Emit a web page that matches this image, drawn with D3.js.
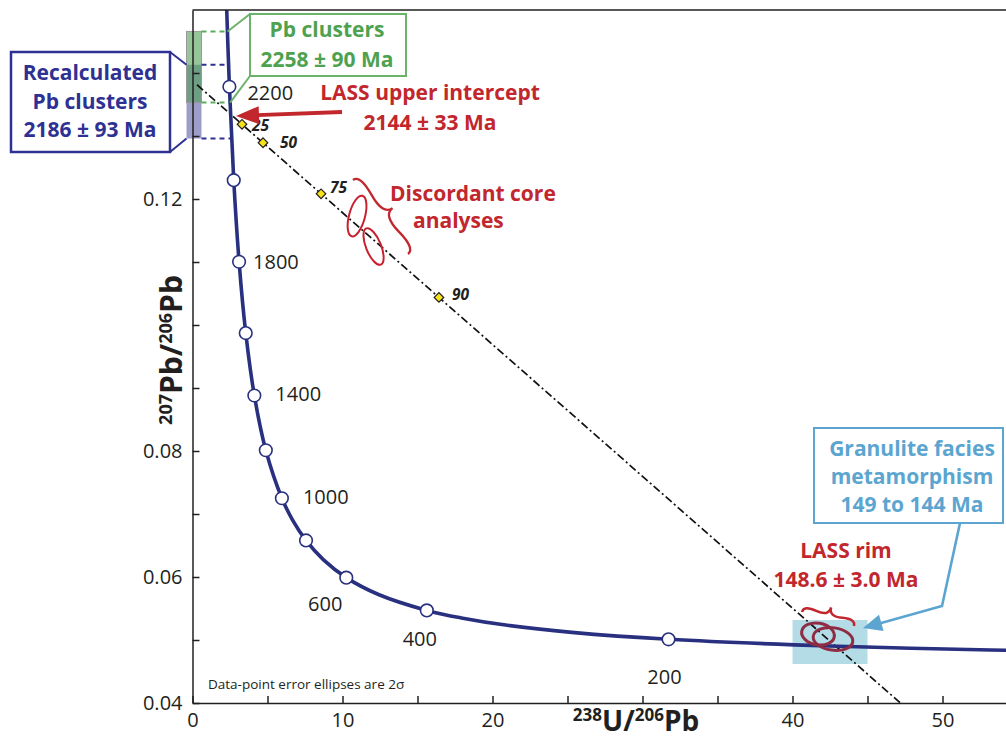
<!DOCTYPE html>
<meta charset="utf-8">
<html>
<style>
  body { margin: 0; background: #fff; }
  .chart text { font-family: "Open Sans", sans-serif; }
  .axis path, .axis line { stroke: #231f20; stroke-width: 1.5; }
  .axis text { font-size: 20px; fill: #231f20; }
</style>
<script type="text/javascript" src="https://cdnjs.cloudflare.com/ajax/libs/d3/7.8.5/d3.min.js"></script>

<body>
  <svg class="chart"></svg>
</body>
<script>
  var width = 1006;
  var height = 742;

  // concordia (Tera-Wasserburg), age in Ma with 238U/206Pb and 207Pb/206Pb
  var concAge = [100, 120, 150, 200, 250, 300, 350, 400, 500, 600, 700, 800, 900, 1000, 1200, 1400, 1600, 1800, 2000, 2200, 2400];
  var concX = [63.97, 53.22, 42.48, 31.735, 25.29, 20.992, 17.923, 15.621, 12.399, 10.252, 8.718, 7.568, 6.674, 5.959, 4.888, 4.123, 3.550, 3.105, 2.749, 2.459, 2.217];
  var concY = [0.04802, 0.04842, 0.04905, 0.05011, 0.05121, 0.05233, 0.05350, 0.05470, 0.05722, 0.05990, 0.06276, 0.06580, 0.06904, 0.07250, 0.08012, 0.08881, 0.09872, 0.11004, 0.12299, 0.13782, 0.15483];
  var markerAges = [200, 400, 600, 800, 1000, 1200, 1400, 1600, 1800, 2000, 2200];
  var labelAges = [200, 400, 600, 1000, 1400, 1800, 2200];

  // discordia: upper (2144 Ma) and lower (148.6 Ma) intercepts
  var discX = [2.534, 42.883];
  var discY = [0.13346, 0.04902];
  var discPctX = [3.3, 4.7, 8.57, 16.43];
  var discPct = ["25", "50", "75", "90"];

  // error ellipses
  var coreCx = [10.97, 12.07];
  var coreCy = [0.1173, 0.11246];
  var coreEx = [0.53, 0.5];
  var coreEy = [0.00333, 0.0031];
  var coreAng = [15, -22];

  var rimCx = [41.7, 42.7];
  var rimCy = [0.05095, 0.05016];
  var rimEx = [1.1, 1.33];
  var rimEy = [0.00172, 0.00178];
  var rimAng = [10, 8];

  // ranges
  var rimZoneX = [40, 45];
  var rimZoneY = [0.04619, 0.05317];
  var pbRange = [0.1353, 0.1466];
  var recalcRange = [0.1296, 0.1413];

  var xTicks = [0, 5, 10, 15, 20, 25, 30, 35, 40, 45, 50];
  var xLabels = [0, 10, 20, 40, 50];
  var yTicks = [0.04, 0.05, 0.06, 0.07, 0.08, 0.09, 0.10, 0.11, 0.12, 0.13, 0.14];
  var yLabels = [0.04, 0.06, 0.08, 0.12];

  var x = d3.scaleLinear().domain([0, 54.2]).range([192.5, 1005.5]);
  var y = d3.scaleLinear().domain([0.04, 0.15]).range([703, 10]);

  var navy = "#28307f", red = "#c1272d", lblue = "#5ba5d0", green = "#4ea24f", dblue = "#2e3192";

  var svg = d3.select(".chart").attr("width", width).attr("height", height);

  svg.append("defs").append("clipPath").attr("id", "plot")
    .append("rect").attr("x", x(0)).attr("y", y(0.15)).attr("width", 830).attr("height", y(0.04) - y(0.15));

  // light blue zone behind the rim analyses
  svg.append("rect")
    .attr("x", x(rimZoneX[0])).attr("y", y(rimZoneY[1]))
    .attr("width", x(rimZoneX[1]) - x(rimZoneX[0]))
    .attr("height", y(rimZoneY[0]) - y(rimZoneY[1]))
    .attr("fill", "#b3dce7");

  // cluster range bars
  var concAtY = d3.scaleLinear().domain(concY.slice().reverse()).range(concX.slice().reverse());
  svg.append("rect")
    .attr("x", x(0) - 6).attr("y", y(recalcRange[1]))
    .attr("width", 15).attr("height", y(recalcRange[0]) - y(recalcRange[1]))
    .attr("fill", "#3c3c96").attr("fill-opacity", 0.5);
  svg.append("rect")
    .attr("x", x(0) - 6).attr("y", y(pbRange[1]))
    .attr("width", 15).attr("height", y(pbRange[0]) - y(pbRange[1]))
    .attr("fill", "#4f9e55").attr("fill-opacity", 0.6)
    .attr("stroke", "#999").attr("stroke-width", 1);

  function dashed(v, col) {
    svg.append("line")
      .attr("x1", x(0) + 9).attr("x2", x(concAtY(v)))
      .attr("y1", y(v)).attr("y2", y(v))
      .attr("stroke", col).attr("stroke-width", 2).attr("stroke-dasharray", "5,4");
  }
  dashed(pbRange[1], "#5aae5a");
  dashed(pbRange[0], "#5aae5a");
  dashed(recalcRange[1], dblue);
  dashed(recalcRange[0], dblue);

  // discordia
  var disc = d3.scaleLinear().domain(discX).range(discY);
  var discEnd = disc.invert(0.04);
  svg.append("line")
    .attr("clip-path", "url(#plot)")
    .attr("x1", x(0.3)).attr("y1", y(disc(0.3)))
    .attr("x2", x(discEnd)).attr("y2", y(0.04))
    .attr("stroke", "#111").attr("stroke-width", 1.7)
    .attr("stroke-dasharray", "8,3,2,3");

  // concordia curve
  var conc = concAge.map(function(a, i) { return [concX[i], concY[i]]; });
  svg.append("path")
    .datum(conc)
    .attr("clip-path", "url(#plot)")
    .attr("d", d3.line().x(function(d) { return x(d[0]); }).y(function(d) { return y(d[1]); })
      .curve(d3.curveCatmullRom))
    .attr("fill", "none").attr("stroke", navy).attr("stroke-width", 3.6);

  // axes
  svg.append("g").attr("class", "axis")
    .attr("transform", "translate(0," + y(0.04) + ")")
    .call(d3.axisBottom(x).tickValues(xTicks).tickSize(-7).tickSizeOuter(0).tickPadding(10)
      .tickFormat(function(d) { return xLabels.indexOf(d) >= 0 ? d : ""; }));
  svg.append("g").attr("class", "axis")
    .attr("transform", "translate(" + x(0) + ",0)")
    .call(d3.axisLeft(y).tickValues(yTicks).tickSize(-7).tickSizeOuter(0).tickPadding(10)
      .tickFormat(function(d) { return yLabels.indexOf(d) >= 0 ? d3.format(".2f")(d) : ""; }));
  svg.append("line")
    .attr("x1", x(0)).attr("x2", width).attr("y1", y(0.15)).attr("y2", y(0.15))
    .attr("stroke", "#231f20").attr("stroke-width", 1.5);

  // age markers
  var markers = markerAges.map(function(a) { var i = concAge.indexOf(a); return { age: a, x: concX[i], y: concY[i] }; });
  svg.selectAll(".mk").data(markers).enter().append("circle")
    .attr("cx", function(d) { return x(d.x); })
    .attr("cy", function(d) { return y(d.y); })
    .attr("r", 6.3)
    .attr("fill", "#fff").attr("stroke", navy).attr("stroke-width", 1.6);

  var ageNudge = { 200: [-4, 45, "middle"], 400: [-7, 36, "middle"], 600: [-21, 33, "middle"],
    1000: [21, 6, "start"], 1400: [21, 6, "start"], 1800: [14, 7, "start"], 2200: [18, 13, "start"] };
  svg.selectAll(".agel").data(markers.filter(function(d) { return labelAges.indexOf(d.age) >= 0; }))
    .enter().append("text")
    .attr("x", function(d) { return x(d.x) + ageNudge[d.age][0]; })
    .attr("y", function(d) { return y(d.y) + ageNudge[d.age][1]; })
    .attr("text-anchor", function(d) { return ageNudge[d.age][2]; })
    .attr("font-size", 20).attr("fill", "#231f20")
    .text(function(d) { return d.age; });

  // ellipses
  function ellipses(cx, cy, ex, ey, ang, col, sw) {
    svg.selectAll(null).data(cx).enter().append("ellipse")
      .attr("transform", function(d, i) { return "translate(" + x(d) + "," + y(cy[i]) + ") rotate(" + ang[i] + ")"; })
      .attr("rx", function(d, i) { return x(d + ex[i]) - x(d); })
      .attr("ry", function(d, i) { return y(cy[i]) - y(cy[i] + ey[i]); })
      .attr("fill", "none").attr("stroke", col).attr("stroke-width", sw);
  }
  ellipses(coreCx, coreCy, coreEx, coreEy, coreAng, "#c8202f", 2);
  ellipses(rimCx, rimCy, rimEx, rimEy, rimAng, "#8f2c43", 3);

  // discordance % markers
  var nudge = [[10, 7], [17, 5], [9, -1], [13, 3]];
  svg.selectAll(".dm").data(discPctX).enter().append("path")
    .attr("d", d3.symbol().type(d3.symbolSquare).size(46))
    .attr("transform", function(d) { return "translate(" + x(d) + "," + y(disc(d)) + ") rotate(45)"; })
    .attr("fill", "#f5e21a").attr("stroke", "#231f20").attr("stroke-width", 1.2);
  svg.selectAll(".dl").data(discPctX).enter().append("text")
    .attr("x", function(d, i) { return x(d) + nudge[i][0]; })
    .attr("y", function(d, i) { return y(disc(d)) + nudge[i][1]; })
    .attr("font-size", 15.5).attr("font-weight", "bold").attr("font-style", "italic").attr("fill", "#231f20")
    .text(function(d, i) { return discPct[i]; });

  // curly braces
  function brace(x1, y1, x2, y2, w, q) {
    var dx = x1 - x2, dy = y1 - y2, len = Math.sqrt(dx * dx + dy * dy);
    dx /= len; dy /= len;
    var qx1 = x1 + q * w * dy, qy1 = y1 - q * w * dx;
    var qx2 = (x1 - .25 * len * dx) + (1 - q) * w * dy, qy2 = (y1 - .25 * len * dy) - (1 - q) * w * dx;
    var tx1 = (x1 - .5 * len * dx) + w * dy, ty1 = (y1 - .5 * len * dy) - w * dx;
    var qx3 = x2 + q * w * dy, qy3 = y2 - q * w * dx;
    var qx4 = (x1 - .75 * len * dx) + (1 - q) * w * dy, qy4 = (y1 - .75 * len * dy) - (1 - q) * w * dx;
    return "M" + x1 + "," + y1 + "Q" + qx1 + "," + qy1 + " " + qx2 + "," + qy2 + "T" + tx1 + "," + ty1 +
      "M" + x2 + "," + y2 + "Q" + qx3 + "," + qy3 + " " + qx4 + "," + qy4 + "T" + tx1 + "," + ty1;
  }
  svg.append("path").attr("d", brace(408, 254, 353, 180, 15, 0.6))
    .attr("fill", "none").attr("stroke", red).attr("stroke-width", 2.3);
  svg.append("path").attr("d", brace(854, 626, 802, 612, 12, 0.6))
    .attr("fill", "none").attr("stroke", red).attr("stroke-width", 2.5);

  // arrows
  function arrow(pts, col, sw, hl, hw) {
    var n = pts.length, tip = pts[n - 1], from = pts[n - 2];
    var dx = tip[0] - from[0], dy = tip[1] - from[1], l = Math.sqrt(dx * dx + dy * dy);
    dx /= l; dy /= l;
    var bx = tip[0] - dx * hl, by = tip[1] - dy * hl;
    var line = pts.slice(0, n - 1).concat([[bx + dx * 2, by + dy * 2]]);
    svg.append("path").attr("d", d3.line()(line))
      .attr("fill", "none").attr("stroke", col).attr("stroke-width", sw);
    svg.append("path")
      .attr("d", d3.line()([tip, [bx - dy * hw, by + dx * hw], [bx + dy * hw, by - dx * hw]]) + "Z")
      .attr("fill", col);
  }
  arrow([[342, 112], [236, 116]], red, 3.8, 23, 9);
  arrow([[960, 523], [942, 606], [863, 628]], lblue, 2.6, 19, 8.5);

  // callout boxes
  function box(x0, y0, x1, y1, col, sw) {
    svg.append("rect").attr("x", x0).attr("y", y0).attr("width", x1 - x0).attr("height", y1 - y0)
      .attr("fill", "#fff").attr("stroke", col).attr("stroke-width", sw);
  }
  function seg(x1, y1, x2, y2, col, sw) {
    svg.append("line").attr("x1", x1).attr("y1", y1).attr("x2", x2).attr("y2", y2)
      .attr("stroke", col).attr("stroke-width", sw);
  }
  box(11, 52, 170, 152, dblue, 2.5);
  seg(170, 52, x(0) - 6, y(recalcRange[1]), dblue, 2);
  seg(170, 152, x(0) - 6, y(recalcRange[0]), dblue, 2);
  box(250, 14, 406, 76, "#6bb26b", 2);
  seg(250, 14, x(concAtY(pbRange[1])), y(pbRange[1]), "#6bb26b", 2);
  seg(250, 76, x(concAtY(pbRange[0])), y(pbRange[0]), "#6bb26b", 2);
  box(814, 428, 1003, 523, lblue, 2);

  function label(lines, cx, y0, dy, col, anchor) {
    var t = svg.append("text").attr("font-size", 21).attr("font-weight", "bold")
      .attr("fill", col).attr("text-anchor", anchor || "middle");
    lines.forEach(function(s, i) {
      t.append("tspan").attr("x", Array.isArray(cx) ? cx[i] : cx).attr("y", y0 + i * dy).text(s);
    });
  }
  label(["Recalculated", "Pb clusters", "2186 \u00b1 93 Ma"], 90, 80, 28.5, dblue);
  label(["Pb clusters", "2258 \u00b1 90 Ma"], 327, 37, 30, green);
  label(["LASS upper intercept", "2144 \u00b1 33 Ma"], 430, 100, 30, red);
  label(["Discordant core", "analyses"], [390, 413], 201, 27, red, "start");
  label(["Granulite  facies", "metamorphism", "149 to 144 Ma"], 912, 456, 28, lblue);
  label(["LASS rim", "148.6 \u00b1 3.0 Ma"], 846, 558, 29, red);

  svg.append("text").attr("x", 208).attr("y", 689).attr("font-size", 13.5).attr("fill", "#231f20")
    .text("Data-point error ellipses are 2\u03c3");

  // axis titles
  function title(t, parts, big, small) {
    parts.forEach(function(p) {
      t.append("tspan").attr("font-size", p[1] ? small : big)
        .attr("dy", p[1] ? -10 : 10).text(p[0]);
    });
  }
  var xt = svg.append("text").attr("x", 636).attr("y", 731).attr("dy", -10)
    .attr("text-anchor", "middle").attr("font-weight", "bold").attr("fill", "#231f20");
  title(xt, [["238", 1], ["U/", 0], ["206", 1], ["Pb", 0]], 28, 17);
  var yt = svg.append("text").attr("transform", "translate(182,350) rotate(-90)").attr("dy", -11)
    .attr("text-anchor", "middle").attr("font-weight", "bold").attr("fill", "#231f20");
  title(yt, [["207", 1], ["Pb/", 0], ["206", 1], ["Pb", 0]], 30, 18);
</script>

</html>
